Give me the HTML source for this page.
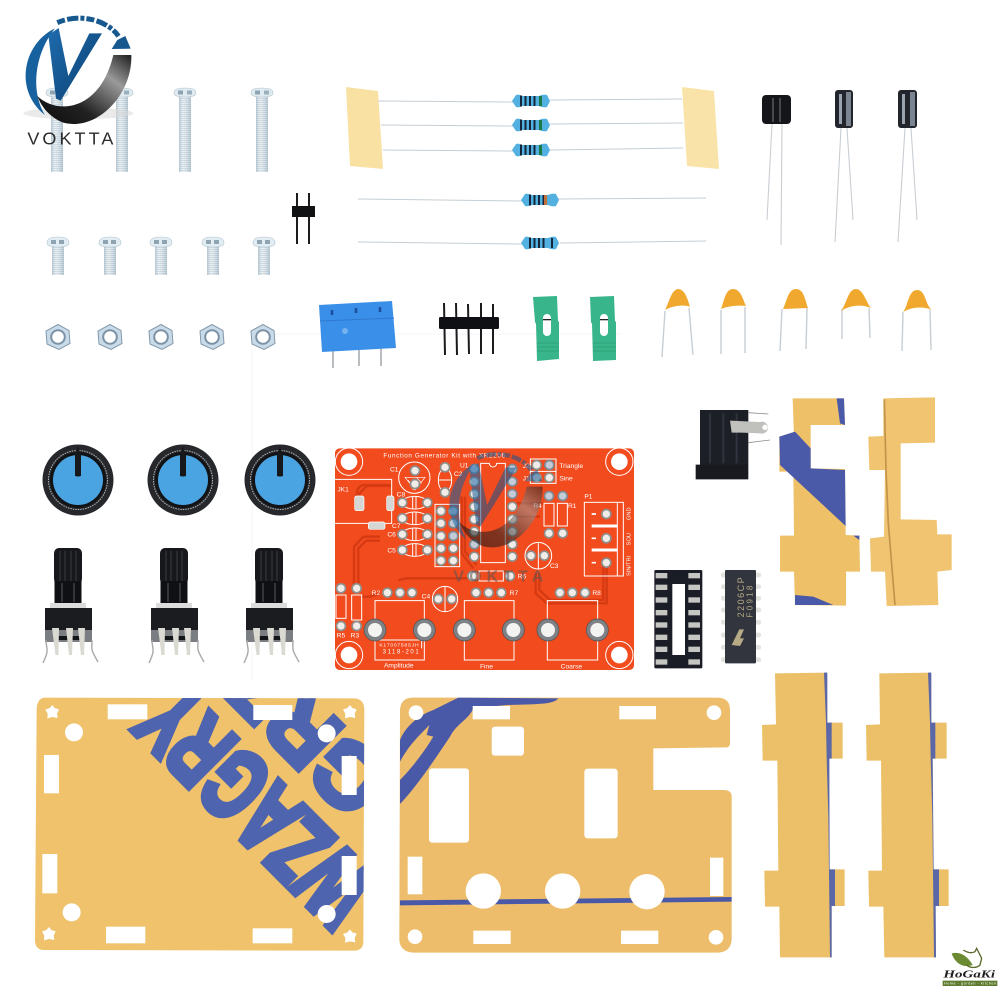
<!DOCTYPE html>
<html><head><meta charset="utf-8"><title>XR2206 Function Generator Kit</title>
<style>html,body{margin:0;padding:0;background:#fff}svg{display:block}text{font-family:"Liberation Sans",sans-serif}</style></head>
<body>
<svg xmlns="http://www.w3.org/2000/svg" width="1000" height="1000" viewBox="0 0 1000 1000">
<defs>
<pattern id="thr" width="4" height="2" patternUnits="userSpaceOnUse"><rect width="4" height="2" fill="#e2ebf0"/><rect width="4" height=".8" fill="#b4c6d1"/></pattern>
<linearGradient id="shaftG" x1="0" x2="1" y1="0" y2="0"><stop offset="0" stop-color="#9db2c0" stop-opacity=".6"/><stop offset=".35" stop-color="#fff" stop-opacity=".3"/><stop offset="1" stop-color="#9db2c0" stop-opacity=".6"/></linearGradient>
<linearGradient id="sw" x1="0" x2="1" y1="1" y2="0"><stop offset="0" stop-color="#0b0b0e"/><stop offset=".35" stop-color="#222"/><stop offset=".72" stop-color="#9a9a9a"/><stop offset="1" stop-color="#1d1d1d"/></linearGradient>
<linearGradient id="vg" x1="0" x2="1" y1="0" y2="1"><stop offset="0" stop-color="#1e6cae"/><stop offset="1" stop-color="#0c3f70"/></linearGradient>
<g id="logoMark">
<path d="M165,85C70,130 40,270 135,345C90,270 105,160 165,85Z" fill="#17619f"/>
<path d="M112,288C170,345 300,335 340,165L394,165C398,285 290,395 190,368C150,352 125,322 112,288Z" fill="url(#sw)"/>
<path d="M145,105L176,84L205,228L268,100L306,100L182,302L168,296Z" fill="url(#vg)"/>
<path d="M172,68C240,38 325,60 358,112" fill="none" stroke="#17588f" stroke-width="15" stroke-dasharray="24 7 34 6 12 6"/>
<path d="M335,147L392,146L376,108L352,120Z" fill="#17588f"/>
</g>
<g id="lscrew">
<rect x="-6" y="8" width="12" height="76" fill="url(#thr)"/><rect x="-6" y="8" width="12" height="76" fill="url(#shaftG)"/>
<path d="M-11,5C-11,1 -7,0 0,0C7,0 11,1 11,5C11,8 7,9 0,9C-7,9 -11,8 -11,5Z" fill="#e0ebf1" stroke="#b4c6d1" stroke-width=".6"/>
<rect x="-7" y="2.5" width="5" height="4" fill="#8fa4b2"/><rect x="2" y="2.5" width="5" height="4" fill="#9bb0bc"/>
</g>
<g id="sscrew">
<rect x="-6" y="9" width="12" height="29" fill="url(#thr)"/><rect x="-6" y="9" width="12" height="29" fill="url(#shaftG)"/>
<path d="M-11,6C-11,1 -6,0 0,0C6,0 11,1 11,6C11,9 7,10 0,10C-7,10 -11,9 -11,6Z" fill="#e2edf3" stroke="#b4c6d1" stroke-width=".6"/>
<rect x="-7" y="3" width="5" height="4" fill="#8fa4b2"/><rect x="1" y="3" width="5" height="4" fill="#8fa4b2"/>
</g>
<g id="nut">
<path d="M0,-12.5L11,-6.5L12,6.5L1,12.5L-11,7L-12,-6Z" fill="#c9dbe8" stroke="#8299ac" stroke-width="1"/>
<circle r="6.8" fill="#fff" stroke="#7b92a6" stroke-width="2"/>
</g>
<g id="res">
<path d="M-19,0L-15,-6Q-12,-7 -9,-5L8,-5Q12,-7 16,-6L19,0L16,6Q12,7 8,5L-9,5Q-12,7 -15,6Z" fill="#53b1e2"/>
<g fill="#16263a"><rect x="-11" y="-5.5" width="2" height="11"/><rect x="-6.5" y="-5" width="2" height="10"/><rect x="-2" y="-5" width="2" height="10"/><rect x="2.5" y="-5" width="2" height="10"/></g>
</g>
<g id="knob">
<circle r="35.5" fill="#26282c"/>
<circle r="29.5" fill="none" stroke="#b4b4b4" stroke-width="1" stroke-dasharray="1.5 1"/>
<circle r="28" fill="#121316"/>
<circle r="25" fill="#4ba4e2"/>
<path d="M-3,-25L-3,-4Q0,-3 3,-4L3,-25L0,-34Z" fill="#16181c"/>
</g>
<g id="pot">
<rect x="-14" y="0" width="28" height="36" rx="5" fill="#17181b"/>
<g stroke="#3a3c42" stroke-width="1"><path d="M-8,3V33M-3,3V33M3,3V33M8,3V33"/></g>
<rect x="-13.5" y="33" width="27" height="23" fill="#0f1013"/>
<path d="M-6,35V54M6,35V54" stroke="#33353a" stroke-width="2"/>
<rect x="-18" y="55" width="36" height="5" fill="#dcdcdc"/>
<rect x="-23" y="60" width="47" height="22" fill="#1b1c20"/>
<rect x="-23" y="82" width="47" height="12" fill="#7a7d82"/>
<rect x="-10" y="88" width="22" height="4" fill="#141518"/>
<path d="M-16,80h7l-.5,27h-3Z M-2,80h7l-1,27h-3Z M10,80h7l-1,27h-3Z" fill="#dad9d2"/>
<path d="M-22,92C-22,102 -18,100 -25,115M24,92C24,102 22,100 30,114" fill="none" stroke="#a8a8a8" stroke-width="1.4"/>
</g>
<g id="p"><circle r="13.5" fill="#f2ece8" stroke="#8e8f8c" stroke-width="5"/></g>
<g id="pb"><circle r="13.5" fill="#c3ccd6" stroke="#7f8790" stroke-width="5"/></g>
<g id="bp"><circle r="33" fill="#7e8287" stroke="#4f4f50" stroke-width="2"/><circle r="21" fill="#f3f3f1"/></g>
<path id="star" d="M0,-22L7,-13L20,-9L14,4L16,17L0,14L-15,18L-14,4L-21,-8L-8,-13Z" fill="#fff"/>
<clipPath id="cp1"><path d="M75,53L1005,55Q1033,58 1033,90L1030,785Q1030,810 1005,812L70,810Q45,808 45,780L50,85Q52,55 75,53Z"/></clipPath>
</defs>
<rect width="1000" height="1000" fill="#fff"/>

<!-- faint lines -->
<path d="M252,334H620M252,334V680" fill="none" stroke="#f2f6f9" stroke-width="1"/>

<!-- screws -->
<use href="#lscrew" x="57" y="88"/><use href="#lscrew" x="122" y="88"/><use href="#lscrew" x="185" y="88"/><use href="#lscrew" x="262" y="88"/>
<use href="#sscrew" x="58" y="237"/><use href="#sscrew" x="110" y="237"/><use href="#sscrew" x="161" y="237"/><use href="#sscrew" x="213" y="237"/><use href="#sscrew" x="264" y="237"/>
<use href="#nut" x="58" y="337"/><use href="#nut" x="110" y="337"/><use href="#nut" x="161" y="337"/><use href="#nut" x="212" y="337"/><use href="#nut" x="263" y="337"/>

<!-- logo -->
<g transform="scale(.3333)">
<ellipse cx="235" cy="340" rx="165" ry="18" fill="#d8d8d8" opacity=".55"/>
<use href="#logoMark"/>
<text x="82" y="434" font-size="54" fill="#2c2c2c" textLength="258" lengthAdjust="spacing">VOKTTA</text>
</g>

<!-- tape -->
<path d="M346,87L378,91L383,169L350,166Z" fill="#f9e1a4"/>
<path d="M682,87L714,91L719,169L687,166Z" fill="#f9e3a8"/>

<!-- resistor wires -->
<g stroke="#c4ced4" stroke-width="1" fill="none">
<path d="M378,101L513,102M550,100L682,99M381,125L513,126M550,124L683,123M383,150L513,151M550,150L683,148M358,199L522,201M558,199L706,198M358,242L522,244M560,243L706,241"/>
</g>
<use href="#res" x="531" y="101"/><rect x="539" y="96" width="3" height="10" fill="#1c7a45"/>
<use href="#res" x="531" y="125"/><rect x="539" y="120" width="3" height="10" fill="#1c7a45"/>
<use href="#res" x="531" y="150"/><rect x="539" y="145" width="3" height="10" fill="#1c7a45"/>
<use href="#res" x="540" y="200"/><rect x="544" y="195" width="3" height="10" fill="#c0703a"/>
<use href="#res" x="540" y="243"/><rect x="551" y="238" width="2" height="10" fill="#16263a"/>

<!-- 2-pin header -->
<path d="M297,193V244M309,193V244" stroke="#1c1c1f" stroke-width="2"/>
<rect x="292" y="206" width="23" height="11" fill="#111214"/>

<!-- electrolytics -->
<g stroke="#c9ced3" stroke-width="1.1" fill="none">
<path d="M772,124L767,220M782,124L781,245M841,128L835,242M847,128L853,220M905,128L898,242M911,128L917,220"/>
</g>
<rect x="762" y="95" width="29" height="29" rx="4" fill="#15161a"/>
<path d="M773,98V122M780,98V122" stroke="#666a70" stroke-width="1.2"/>
<rect x="835" y="90" width="18" height="38" rx="3" fill="#22252b"/>
<rect x="846" y="92" width="5" height="34" fill="#7b8591"/><rect x="839" y="94" width="3" height="30" fill="#9aa4ae"/>
<rect x="898" y="90" width="19" height="38" rx="3" fill="#22252b"/>
<rect x="910" y="92" width="5" height="34" fill="#7b8591"/><rect x="902" y="94" width="3" height="30" fill="#9aa4ae"/>

<!-- blue terminal -->
<path d="M333,350V368M359,350V366M381,348V366" stroke="#a8adb0" stroke-width="1.6"/>
<path d="M319,305L392,301L396,348L322,352Z" fill="#3a8fe8"/>
<path d="M320,321L394,318" stroke="#2f79cf" stroke-width="1"/>
<path d="M332,310v5M356,308v5M380,307v5" stroke="#1d4f9c" stroke-width="2.5"/>
<circle cx="345" cy="331" r="3" fill="#74b1ef"/>

<!-- 5-pin header -->
<path d="M444,303L445,355M456,303L457,355M468,304L469,354M481,303L481,354M493,304L493,354" stroke="#1b1b1e" stroke-width="2"/>
<rect x="439" y="317" width="60" height="12" rx="1.5" fill="#0f1013"/>

<!-- jumpers -->
<path d="M533,297L557,296L558,321L559,322L559,359L537,361L536,324L535,322Z" fill="#39b58b"/>
<rect x="543" y="314" width="8" height="22" rx="4" fill="#fff"/><rect x="543" y="319" width="8" height="1.3" fill="#222"/>
<path d="M537,343H559M537,347H559M537,351H559" stroke="#2d9c75" stroke-width=".8"/>
<path d="M590,297L614,296L615,321L616,322L616,360L593,361L592,324L591,322Z" fill="#39b58b"/>
<rect x="600" y="314" width="8" height="22" rx="4" fill="#fff"/><rect x="600" y="319" width="8" height="1.3" fill="#222"/>
<path d="M593,343H616M593,347H616M593,351H616" stroke="#2d9c75" stroke-width=".8"/>

<!-- ceramic caps -->
<g stroke="#c7ced3" stroke-width="1.4" fill="none">
<path d="M665,311L662,357M689,308L693,355M721,310L721,354M745,307L745,353M782,309L780,351M807,308L806,349M842,309L842,339M869,308L870,338M903,312L902,351M930,310L931,350"/>
</g>
<g fill="#f0a92e">
<path d="M665,310C669,303 671,290 678,289C685,289 688,300 690,307C684,304 672,306 665,310Z"/>
<path d="M721,309C724,302 725,289 733,289C741,289 743,300 746,306C739,305 728,306 721,309Z"/>
<path d="M783,309C787,301 788,289 796,289C804,289 805,300 808,308Z"/>
<path d="M841,311C847,303 848,289 856,289C863,289 866,302 871,308C862,304 850,305 841,311Z"/>
<path d="M903,312C908,307 908,290 917,290C926,290 925,305 932,310C923,306 912,307 903,312Z"/>
</g>

<!-- knobs & pots -->
<use href="#knob" x="78" y="480"/><use href="#knob" x="183" y="480"/><use href="#knob" x="280" y="480"/>
<use href="#pot" x="68" y="548"/><use href="#pot" x="174" y="548"/><use href="#pot" x="269" y="548"/>

<!-- PCB -->
<g transform="translate(330,440) scale(.33333)">
<rect x="15" y="25" width="897" height="665" rx="14" fill="#f14b1e"/>
<g fill="none" stroke="#d53a12" stroke-width="7">
<path d="M185,135H100Q80,140 80,165V190M88,190V160L110,138H185"/>
<path d="M150,290H100L72,320V445M150,302H108L85,325V445"/>
<path d="M205,420L230,415H425"/>
<path d="M395,170V340L430,385M405,170V335L440,375"/>
<path d="M617,400V460L650,490H830V380M628,400V450L660,480H820V380"/>
<path d="M95,470H120L150,460"/>
<path d="M548,190H640M548,230H630"/>
</g>
<g fill="none" stroke="#fff" stroke-width="3">
<circle cx="57" cy="65" r="41"/><circle cx="868" cy="65" r="41"/><circle cx="57" cy="645" r="41"/><circle cx="868" cy="645" r="41"/>
<path d="M15,118H185V250H15"/>
<circle cx="253" cy="113" r="47"/>
<ellipse cx="345" cy="120" rx="20" ry="35"/><path d="M325,120H365"/>
<ellipse cx="254" cy="188" rx="38" ry="19"/><ellipse cx="254" cy="235" rx="38" ry="19"/><ellipse cx="254" cy="283" rx="38" ry="19"/><ellipse cx="254" cy="330" rx="38" ry="19"/>
<path d="M248,170V206M258,170V206M248,217V253M258,217V253M248,265V301M258,265V301M248,312V348M258,312V348"/>
<rect x="315" y="193" width="74" height="187"/>
<path d="M452,70H478A11,11 0 0 0 500,70H526V368H452Z"/>
<rect x="601" y="57" width="77" height="73"/><path d="M601,94H678"/>
<rect x="642" y="190" width="30" height="68"/><rect x="682" y="190" width="30" height="68"/>
<rect x="763" y="187" width="117" height="221"/><path d="M862,187V408"/>
<path d="M785,258H862M785,330H862" stroke-width="9"/>
<path d="M785,222H798M785,295H798M785,368H798" stroke-width="5"/>
<circle cx="625" cy="347" r="40"/><path d="M625,307V387"/>
<circle cx="345" cy="477" r="38"/><path d="M345,440V515"/>
<rect x="447" y="393" width="73" height="30"/>
<rect x="18" y="465" width="30" height="70"/><rect x="65" y="465" width="30" height="75"/>
<path d="M135,545V482H283V545M135,600V660H283V600M403,545V482H552V545M403,600V660H552V600M652,545V482H803V545M652,600V660H803V600"/>
<path d="M140,600H275V625"/>
<path d="M225,112L285,112L255,150ZM235,120L250,150M260,112L275,130" stroke-width="2"/>
</g>
<g fill="#d6d6d4" stroke="#fff" stroke-width="2">
<rect x="74" y="168" width="28" height="44" rx="6"/><rect x="170" y="168" width="22" height="44" rx="6"/><rect x="115" y="246" width="50" height="22" rx="6"/>
</g>
<g fill="#fff"><circle cx="57" cy="65" r="25"/><circle cx="868" cy="65" r="25"/><circle cx="57" cy="645" r="25"/><circle cx="868" cy="645" r="25"/></g>
<use href="#p" x="255" y="92"/><use href="#p" x="255" y="132"/><use href="#p" x="345" y="82"/><use href="#p" x="345" y="157"/>
<use href="#p" x="217" y="188"/><use href="#p" x="292" y="188"/><use href="#p" x="217" y="235"/><use href="#p" x="292" y="235"/><use href="#p" x="217" y="283"/><use href="#p" x="292" y="283"/><use href="#p" x="217" y="330"/><use href="#p" x="292" y="330"/>
<use href="#p" x="333" y="213"/><use href="#pb" x="370" y="213"/><use href="#p" x="333" y="250"/><use href="#pb" x="370" y="250"/><use href="#p" x="333" y="288"/><use href="#pb" x="370" y="288"/><use href="#p" x="333" y="325"/><use href="#p" x="370" y="325"/><use href="#p" x="333" y="362"/><use href="#p" x="370" y="362"/>
<use href="#pb" x="433" y="87"/><use href="#p" x="433" y="125"/><use href="#p" x="433" y="162"/><use href="#p" x="433" y="200"/><use href="#p" x="433" y="238"/><use href="#p" x="433" y="275"/><use href="#pb" x="433" y="313"/><use href="#p" x="433" y="350"/>
<use href="#pb" x="547" y="87"/><use href="#pb" x="547" y="125"/><use href="#pb" x="547" y="162"/><use href="#p" x="547" y="200"/><use href="#p" x="547" y="238"/><use href="#p" x="547" y="275"/><use href="#p" x="547" y="313"/><use href="#p" x="547" y="350"/>
<use href="#p" x="620" y="75"/><use href="#pb" x="658" y="75"/><use href="#p" x="620" y="113"/><use href="#p" x="658" y="113"/>
<use href="#pb" x="657" y="168"/><use href="#pb" x="698" y="168"/><use href="#p" x="657" y="280"/><use href="#p" x="698" y="280"/>
<use href="#p" x="829" y="222"/><use href="#p" x="829" y="295"/><use href="#p" x="829" y="368"/>
<use href="#p" x="603" y="347"/><use href="#p" x="643" y="347"/>
<use href="#p" x="427" y="408"/><use href="#p" x="540" y="408"/>
<use href="#p" x="438" y="458"/><use href="#p" x="476" y="458"/><use href="#p" x="514" y="458"/>
<use href="#p" x="172" y="458"/><use href="#p" x="210" y="458"/><use href="#p" x="246" y="458"/>
<use href="#p" x="690" y="458"/><use href="#p" x="727" y="458"/><use href="#p" x="765" y="458"/>
<use href="#p" x="325" y="477"/><use href="#p" x="365" y="477"/>
<use href="#p" x="33" y="445"/><use href="#p" x="80" y="445"/><use href="#p" x="33" y="558"/><use href="#p" x="80" y="558"/>
<use href="#bp" x="135" y="570"/><use href="#bp" x="283" y="570"/><use href="#bp" x="403" y="570"/><use href="#bp" x="550" y="570"/><use href="#bp" x="654" y="570"/><use href="#bp" x="802" y="570"/>
<g fill="#fff" font-size="20">
<text x="160" y="52" textLength="365" font-size="19">Function Generator Kit with XR2206</text>
<text x="180" y="94">C1</text><text x="372" y="108">C2</text><text x="390" y="82">U1</text><text x="22" y="154">JK1</text>
<text x="200" y="170">C8</text><text x="186" y="264">C7</text><text x="172" y="290">C6</text><text x="172" y="337">C5</text>
<text x="578" y="84">J2</text><text x="578" y="122">J1</text><text x="688" y="84">Triangle</text><text x="688" y="122">Sine</text>
<text x="610" y="204">R4</text><text x="714" y="204">R1</text><text x="763" y="176">P1</text><text x="660" y="384">C3</text>
<text x="563" y="416">R6</text><text x="125" y="465">R2</text><text x="539" y="465">R7</text><text x="787" y="465">R8</text><text x="275" y="476">C4</text>
<text x="20" y="592">R5</text><text x="62" y="592">R3</text>
<text x="148" y="620" font-size="15" textLength="118">K1700758SJH</text><text x="158" y="640" font-size="18" textLength="108">3118-201</text>
<text x="162" y="683">Amplitude</text><text x="450" y="686">Fine</text><text x="692" y="686">Coarse</text>
<text transform="translate(902,240) rotate(-90)" font-size="17">GND</text>
<text transform="translate(902,316) rotate(-90)" font-size="17">SOU</text>
<text transform="translate(902,408) rotate(-90)" font-size="17">SIN/TRI</text>
</g>
<g opacity=".55"><g transform="translate(495,175) scale(.88) translate(-232,-205)"><use href="#logoMark"/></g></g>
<text x="370" y="425" font-size="48" font-weight="bold" fill="#555" opacity=".55" textLength="270">VOKTTA</text>
</g>

<!-- DC jack, strips, IC group -->
<g transform="translate(640,390) scale(.33333)">
<rect x="180" y="60" width="145" height="165" fill="#1d1f27"/>
<path d="M210,70V220M250,70V220M290,70V220" stroke="#30333d" stroke-width="6"/>
<path d="M167,224H325V268H167Z" fill="#191a20"/>
<path d="M325,68L385,72M325,158L390,150" stroke="#8a8a8a" stroke-width="2.5" fill="none"/>
<path d="M270,92L360,96A18,18 0 1 1 360,130L305,128L275,128Z" fill="#c0c0bc"/><circle cx="375" cy="112" r="8" fill="#fff"/>

<path d="M458,25L612,25L615,105L512,105L512,235L615,237L617,435L658,437L660,545L618,545L618,647L465,645L462,545L420,545L420,437L462,437L460,245L418,245L418,140L462,140Z" fill="#eec068"/>
<path d="M418,140L465,125L512,175L512,235L615,240L617,408L420,225Z" fill="#4a5aa9"/>
<path d="M590,25L612,25L615,105L600,100Z" fill="#4a5aa9"/>
<path d="M465,615L520,620L580,645L465,645Z" fill="#4a5aa9"/>
<path d="M640,437L658,437L658,450Z" fill="#4a5aa9"/>

<path d="M730,25L885,22L885,158L782,160L782,388L890,390L892,433L935,433L935,540L892,545L895,645L740,648L735,545L693,545L690,445L732,440L735,240L688,240L685,140L730,138Z" fill="#f0c470"/>
<path d="M733,28L738,240L745,400L765,645" stroke="#c2934a" stroke-width="5" fill="none"/>

<rect x="43" y="540" width="144" height="295" rx="4" fill="#1b1d26"/>
<rect x="97" y="582" width="38" height="213" fill="#fff"/>
<g fill="#c5c5c2">
<rect x="47" y="549" width="35" height="16"/><rect x="47" y="584" width="35" height="16"/><rect x="47" y="622" width="35" height="16"/><rect x="47" y="660" width="35" height="16"/><rect x="47" y="697" width="35" height="16"/><rect x="47" y="734" width="35" height="16"/><rect x="47" y="770" width="35" height="16"/><rect x="47" y="808" width="35" height="16"/>
<rect x="145" y="549" width="35" height="16"/><rect x="145" y="584" width="35" height="16"/><rect x="145" y="622" width="35" height="16"/><rect x="145" y="660" width="35" height="16"/><rect x="145" y="697" width="35" height="16"/><rect x="145" y="734" width="35" height="16"/><rect x="145" y="770" width="35" height="16"/><rect x="145" y="808" width="35" height="16"/>
</g>
<g fill="#e2e2de">
<rect x="243" y="548" width="120" height="14" rx="6"/><rect x="243" y="583" width="120" height="14" rx="6"/><rect x="243" y="618" width="120" height="14" rx="6"/><rect x="243" y="653" width="120" height="14" rx="6"/><rect x="243" y="690" width="120" height="14" rx="6"/><rect x="243" y="728" width="120" height="14" rx="6"/><rect x="243" y="765" width="120" height="14" rx="6"/><rect x="243" y="802" width="120" height="14" rx="6"/>
</g>
<rect x="255" y="540" width="93" height="280" rx="3" fill="#32353e"/>
<g fill="#b6ab84">
<text transform="translate(312,682) rotate(-90)" font-size="27" textLength="120">2206CP</text>
<text transform="translate(338,682) rotate(-90)" font-size="24" textLength="95">F0918</text>
<path d="M275,765L298,718L312,718L300,745L312,745L300,768Z"/>
</g>
</g>

<!-- acrylic panel 1 -->
<g transform="translate(20,680) scale(.33333)">
<path d="M75,53L1005,55Q1033,58 1033,90L1030,785Q1030,810 1005,812L70,810Q45,808 45,780L50,85Q52,55 75,53Z" fill="#efc26b"/>
<g clip-path="url(#cp1)" fill="#4f64ae" stroke="#4f64ae" font-weight="bold">
<text transform="translate(1083,609) rotate(225)" font-size="297" stroke-width="20" textLength="858" lengthAdjust="spacingAndGlyphs">WZAGRY</text>
<text transform="translate(1370,540) rotate(225)" font-size="270" stroke-width="18" textLength="900" lengthAdjust="spacingAndGlyphs">ZAGRZ</text>
</g>
<g fill="#fff">
<rect x="263" y="73" width="119" height="45"/><rect x="700" y="75" width="117" height="45"/><rect x="72" y="225" width="45" height="115"/><rect x="965" y="228" width="45" height="117"/><rect x="67" y="522" width="45" height="118"/><rect x="965" y="528" width="45" height="117"/><rect x="258" y="740" width="118" height="50"/><rect x="698" y="745" width="119" height="45"/>
<circle cx="162" cy="157" r="27"/><circle cx="920" cy="160" r="27"/><circle cx="155" cy="697" r="27"/><circle cx="920" cy="702" r="27"/>
</g>
<use href="#star" x="97" y="97"/><use href="#star" x="990" y="97"/><use href="#star" x="87" y="763"/><use href="#star" x="990" y="770"/>
</g>

<!-- acrylic panel 2 -->
<g transform="translate(390,680) scale(.33333)">
<path d="M65,53L985,53Q1020,55 1020,90L1020,190Q1020,202 1008,202L790,205L790,330L1005,330Q1025,332 1025,350L1025,780Q1022,815 985,818L70,818Q30,815 28,780L30,90Q32,55 65,53Z" fill="#edbd6b"/>
<path d="M205,53L505,55C490,75 430,72 350,75L250,85C235,120 200,130 180,170C140,230 80,320 30,372L30,300C60,270 100,220 130,170L110,165L118,135C90,165 60,190 30,245L30,180C50,130 100,100 130,90Z" fill="#4a58a8"/>
<path d="M30,661L1025,651L1025,665L30,676Z" fill="#4a58a8"/>
<g fill="#fff">
<circle cx="78" cy="98" r="22"/><circle cx="972" cy="98" r="22"/><circle cx="75" cy="770" r="22"/><circle cx="978" cy="772" r="22"/>
<rect x="248" y="78" width="112" height="40"/><rect x="688" y="78" width="110" height="40"/>
<rect x="305" y="140" width="97" height="87" rx="10"/><rect x="117" y="265" width="120" height="223" rx="10"/><rect x="583" y="266" width="100" height="209" rx="10"/>
<rect x="53" y="530" width="44" height="113"/><rect x="960" y="533" width="40" height="115"/>
<rect x="250" y="752" width="112" height="40"/><rect x="693" y="752" width="112" height="40"/>
<circle cx="280" cy="633" r="53"/><circle cx="518" cy="633" r="53"/><circle cx="771" cy="635" r="53"/>
</g>
</g>

<!-- bottom strips & HoGaKi -->
<g transform="translate(750,660) scale(.33333)">
<path d="M75,40L230,38L232,188L278,188L278,296L238,296L238,628L284,628L284,738L245,738L245,892L90,892L88,740L45,740L43,632L85,632L82,302L38,302L36,195L78,193Z" fill="#ecc068"/>
<path d="M222,38H232L232,188L245,188L245,296L238,296L239,628L255,628L255,738L245,738L245,892L240,892L235,470L230,296L228,188Z" fill="#5b67a6"/>
<path d="M388,40L543,38L544,188L590,188L590,296L548,296L550,628L596,628L596,738L556,738L558,892L403,892L400,740L357,740L355,632L396,632L393,302L350,302L348,195L390,193Z" fill="#ecc068"/>
<path d="M534,38H544L544,188L556,188L556,296L548,296L551,628L567,628L567,738L557,738L558,892L552,892L547,470L542,296L540,188Z" fill="#5b67a6"/>
<path d="M605,880C630,875 650,885 668,915C640,925 615,910 605,880Z" fill="#6b8a32"/>
<path d="M640,870C655,880 665,880 675,875L680,865L695,895L690,915C680,925 660,925 650,915" fill="none" stroke="#5a6b2c" stroke-width="4"/>
<text x="580" y="952" font-size="32" font-weight="bold" font-style="italic" fill="#1d1d1d" textLength="155" lengthAdjust="spacingAndGlyphs" style="font-family:'Liberation Serif',serif">HoGaKi</text>
<rect x="578" y="962" width="164" height="16" fill="#5d7a2e"/>
<text x="582" y="974" font-size="11" fill="#fff" textLength="156">Home - garden - kitchen</text>
</g>
</svg>
</body></html>
